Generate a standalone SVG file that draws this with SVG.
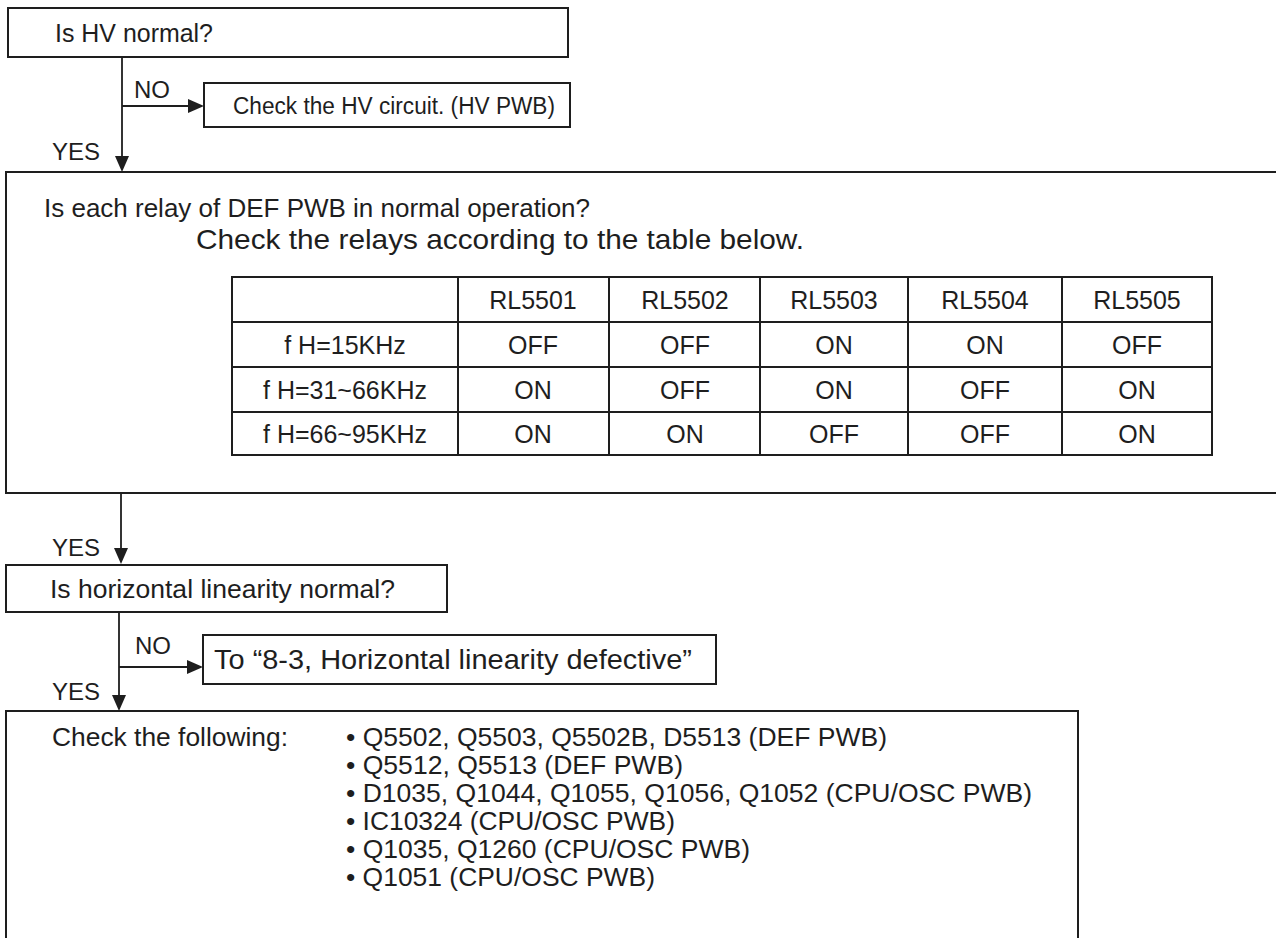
<svg xmlns="http://www.w3.org/2000/svg" width="1276" height="938" viewBox="0 0 1276 938">
<style>
  .box { fill: #ffffff; stroke: #1e1e1e; stroke-width: 2; }
  .grid { fill: none; stroke: #1e1e1e; stroke-width: 2; }
  .line { stroke: #1e1e1e; stroke-width: 1.8; fill: none; }
  .head { fill: #1e1e1e; stroke: none; }
  text { font-family: "Liberation Sans", Arial, Helvetica, sans-serif; font-size: 26px; fill: #1e1e1e; }
  .c { text-anchor: middle; font-size: 25px; }
  .lbl { font-size: 24px; }
  .sm { font-size: 23.5px; }
  .lg { font-size: 27.5px; }
</style>
<rect width="1276" height="938" fill="#ffffff"/>

<g id="node-hv">
  <rect class="box" x="8" y="8" width="560" height="49"/>
  <text x="55" y="42" textLength="158" lengthAdjust="spacingAndGlyphs">Is HV normal?</text>
</g>

<g id="node-hv-circuit">
  <rect class="box" x="204" y="83" width="366" height="44"/>
  <text class="sm" x="233" y="114" textLength="322" lengthAdjust="spacingAndGlyphs">Check the HV circuit. (HV PWB)</text>
</g>

<g id="node-relay">
  <rect class="box" x="6" y="172" width="1300" height="321"/>
  <text x="44" y="217" textLength="546" lengthAdjust="spacingAndGlyphs">Is each relay of DEF PWB in normal operation?</text>
  <text class="lg" x="196" y="249" textLength="608" lengthAdjust="spacingAndGlyphs">Check the relays according to the table below.</text>
  <g id="relay-table">
    <rect class="grid" x="232" y="277" width="980" height="178"/>
    <line class="grid" x1="232" y1="322" x2="1212" y2="322"/>
    <line class="grid" x1="232" y1="367" x2="1212" y2="367"/>
    <line class="grid" x1="232" y1="412" x2="1212" y2="412"/>
    <line class="grid" x1="458" y1="277" x2="458" y2="455"/>
    <line class="grid" x1="609" y1="277" x2="609" y2="455"/>
    <line class="grid" x1="760" y1="277" x2="760" y2="455"/>
    <line class="grid" x1="908" y1="277" x2="908" y2="455"/>
    <line class="grid" x1="1062" y1="277" x2="1062" y2="455"/>
    <text class="c" x="533" y="309">RL5501</text>
    <text class="c" x="685" y="309">RL5502</text>
    <text class="c" x="834" y="309">RL5503</text>
    <text class="c" x="985" y="309">RL5504</text>
    <text class="c" x="1137" y="309">RL5505</text>
    <text class="c" x="345" y="354">f H=15KHz</text>
    <text class="c" x="533" y="354">OFF</text>
    <text class="c" x="685" y="354">OFF</text>
    <text class="c" x="834" y="354">ON</text>
    <text class="c" x="985" y="354">ON</text>
    <text class="c" x="1137" y="354">OFF</text>
    <text class="c" x="345" y="399">f H=31~66KHz</text>
    <text class="c" x="533" y="399">ON</text>
    <text class="c" x="685" y="399">OFF</text>
    <text class="c" x="834" y="399">ON</text>
    <text class="c" x="985" y="399">OFF</text>
    <text class="c" x="1137" y="399">ON</text>
    <text class="c" x="345" y="443">f H=66~95KHz</text>
    <text class="c" x="533" y="443">ON</text>
    <text class="c" x="685" y="443">ON</text>
    <text class="c" x="834" y="443">OFF</text>
    <text class="c" x="985" y="443">OFF</text>
    <text class="c" x="1137" y="443">ON</text>
  </g>
</g>

<g id="node-linearity">
  <rect class="box" x="6" y="565" width="441" height="47"/>
  <text x="50" y="598" textLength="345" lengthAdjust="spacingAndGlyphs">Is horizontal linearity normal?</text>
</g>

<g id="node-linearity-defective">
  <rect class="box" x="203" y="635" width="513" height="49"/>
  <text class="lg" x="214" y="669" textLength="478" lengthAdjust="spacingAndGlyphs">To “8-3, Horizontal linearity defective”</text>
</g>

<g id="node-check">
  <rect class="box" x="6" y="711" width="1072" height="260"/>
  <text x="52" y="746" textLength="236" lengthAdjust="spacingAndGlyphs">Check the following:</text>
  <text x="346" y="746" textLength="541" lengthAdjust="spacingAndGlyphs">• Q5502, Q5503, Q5502B, D5513 (DEF PWB)</text>
  <text x="346" y="774" textLength="337" lengthAdjust="spacingAndGlyphs">• Q5512, Q5513 (DEF PWB)</text>
  <text x="346" y="802" textLength="686" lengthAdjust="spacingAndGlyphs">• D1035, Q1044, Q1055, Q1056, Q1052 (CPU/OSC PWB)</text>
  <text x="346" y="830" textLength="329" lengthAdjust="spacingAndGlyphs">• IC10324 (CPU/OSC PWB)</text>
  <text x="346" y="858" textLength="404" lengthAdjust="spacingAndGlyphs">• Q1035, Q1260 (CPU/OSC PWB)</text>
  <text x="346" y="886" textLength="309" lengthAdjust="spacingAndGlyphs">• Q1051 (CPU/OSC PWB)</text>
</g>

<g id="connectors">
  <line class="line" x1="122" y1="57" x2="122" y2="158"/>
  <polygon class="head" points="115,156 129,156 122,172"/>
  <line class="line" x1="122" y1="106" x2="190" y2="106"/>
  <polygon class="head" points="188,99 188,113 204,106"/>
  <text class="lbl" x="134" y="98">NO</text>
  <text class="lbl" x="52" y="160">YES</text>

  <line class="line" x1="121" y1="493" x2="121" y2="550"/>
  <polygon class="head" points="114,548 128,548 121,564"/>
  <text class="lbl" x="52" y="556">YES</text>

  <line class="line" x1="119" y1="612" x2="119" y2="697"/>
  <polygon class="head" points="112,695 126,695 119,711"/>
  <line class="line" x1="119" y1="667" x2="189" y2="667"/>
  <polygon class="head" points="187,660 187,674 203,667"/>
  <text class="lbl" x="135" y="654">NO</text>
  <text class="lbl" x="52" y="700">YES</text>
</g>
</svg>
